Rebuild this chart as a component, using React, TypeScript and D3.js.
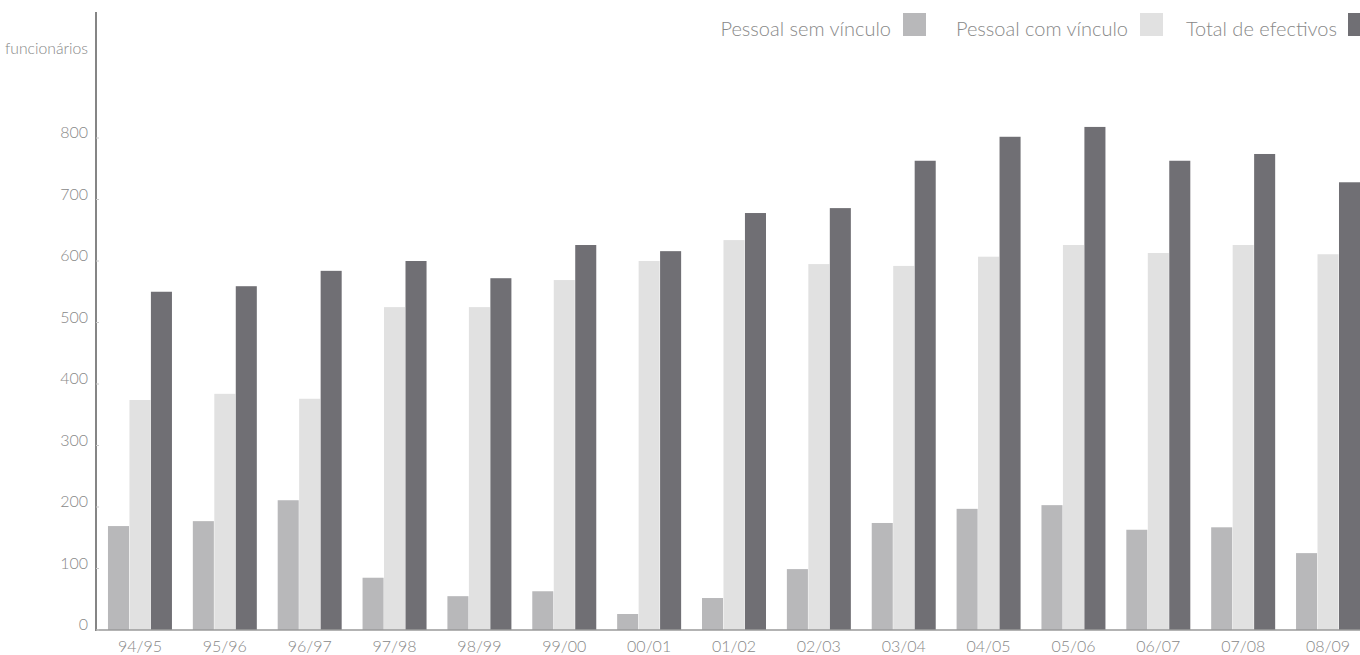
import React from "react";
import * as d3 from "d3";

// Staff counts per academic year
const years = ["94/95", "95/96", "96/97", "97/98", "98/99", "99/00", "00/01", "01/02", "02/03", "03/04", "04/05", "05/06", "06/07", "07/08", "08/09"];
const semVinculo = [169, 177, 211, 85, 55, 63, 26, 52, 99, 174, 197, 203, 163, 167, 125];
const comVinculo = [374, 384, 376, 525, 525, 569, 600, 634, 595, 592, 607, 626, 613, 626, 611];
const totalEfectivos = [550, 559, 584, 600, 572, 626, 616, 678, 686, 763, 802, 818, 763, 774, 728];
const yTicks = [0, 100, 200, 300, 400, 500, 600, 700, 800];

const seriesNames = ["Pessoal sem vínculo", "Pessoal com vínculo", "Total de efectivos"];
const seriesColors = ["#b8b8ba", "#e1e1e1", "#706f74"];

const W = 1360;
const H = 655;
const FONT = "Lato, 'Open Sans', sans-serif";
const TEXT = "#888888";

export default function App() {
  const axisX = 96;
  const baseY = 630;

  const x = d3
    .scaleBand<string>()
    .domain(years)
    .range([axisX, 1372])
    .paddingInner(0.246)
    .paddingOuter(0.141);

  const inner = d3
    .scaleBand<number>()
    .domain([0, 1, 2])
    .range([0, x.bandwidth()])
    .paddingInner(0.02);

  const y = d3.scaleLinear().domain([0, 800]).range([baseY, baseY - 492]);

  const series = [semVinculo, comVinculo, totalEfectivos];

  const legend = [
    { end: 891, sw: 903 },
    { end: 1128, sw: 1140 },
    { end: 1337, sw: 1348 },
  ];

  return (
    <svg
      width={W}
      height={H}
      style={{ position: "absolute", left: 0, top: 0, background: "#fff" }}
      fontFamily={FONT}
    >
      {/* bars */}
      {years.map((yr, i) => (
        <g key={yr} transform={`translate(${x(yr)},0)`}>
          {series.map((vals, s) => (
            <rect
              key={s}
              x={inner(s)}
              y={y(vals[i])}
              width={inner.bandwidth()}
              height={baseY - y(vals[i])}
              fill={seriesColors[s]}
            />
          ))}
        </g>
      ))}

      {/* baseline */}
      <line x1={axisX} x2={W} y1={baseY} y2={baseY} stroke="#9a9a9a" strokeWidth={1.5} />

      {/* y axis */}
      <line x1={axisX} x2={axisX} y1={12} y2={baseY + 1} stroke="#858585" strokeWidth={2} />
      {yTicks.map((t) => (
        <g key={t}>
          <line x1={axisX} x2={axisX + 3} y1={y(t)} y2={y(t)} stroke="#c8c8c8" strokeWidth={1} />
          <text
            x={88}
            y={y(t) - 6.5}
            textAnchor="end"
            dominantBaseline="central"
            fontSize={16}
            fontWeight={300}
            fill={TEXT}
          >
            {t}
          </text>
        </g>
      ))}
      <text
        x={88}
        y={47}
        textAnchor="end"
        dominantBaseline="central"
        fontSize={16}
        fontWeight={300}
        fill={TEXT}
        textLength={83}
        lengthAdjust="spacingAndGlyphs"
      >
        funcionários
      </text>

      {/* x labels */}
      {years.map((yr) => (
        <text
          key={yr}
          x={(x(yr) as number) + x.bandwidth() / 2}
          y={645}
          textAnchor="middle"
          dominantBaseline="central"
          fontSize={16}
          fontWeight={300}
          fill={TEXT}
        >
          {yr}
        </text>
      ))}

      {/* legend */}
      {seriesNames.map((name, s) => (
        <g key={name}>
          <text
            x={legend[s].end}
            y={28}
            textAnchor="end"
            dominantBaseline="central"
            fontSize={20}
            fontWeight={300}
            fill={TEXT}
          >
            {name}
          </text>
          <rect x={legend[s].sw} y={13} width={23} height={23} fill={seriesColors[s]} />
        </g>
      ))}
    </svg>
  );
}
